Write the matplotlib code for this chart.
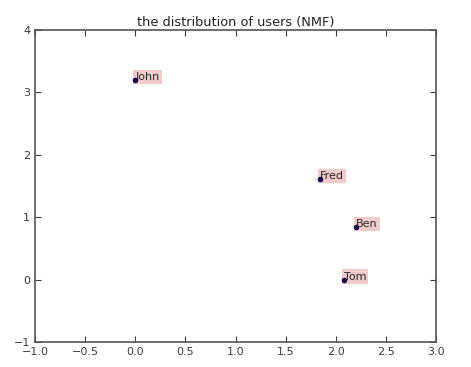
import matplotlib
matplotlib.use("Agg")
import matplotlib.pyplot as plt

names = ["John", "Fred", "Ben", "Tom"]
xs = [0.0, 1.84, 2.20, 2.08]
ys = [3.20, 1.61, 0.84, 0.0]

plt.rcParams['font.family'] = ['DejaVu Sans']
fig = plt.figure(figsize=(4.71, 3.67), dpi=100)
ax = fig.add_axes([35 / 471, 25 / 367, 401 / 471, 312 / 367])

ax.scatter(xs, ys, s=9, color='#1a0a4a', zorder=5)
for n, x, y in zip(names, xs, ys):
    ax.text(x, y, n, fontsize=8, color='#2a2a2a', zorder=4,
            bbox=dict(facecolor='#e8a8a8', edgecolor='none', alpha=0.6, pad=1.5))

ax.set_xlim(-1.0, 3.0)
ax.set_ylim(-1, 4)
ax.set_xticks([-1.0, -0.5, 0.0, 0.5, 1.0, 1.5, 2.0, 2.5, 3.0])
ax.set_yticks([-1, 0, 1, 2, 3, 4])
ax.tick_params(direction='in', top=True, right=True, labelsize=8,
               colors='#3a3a3a', length=4)
for sp in ax.spines.values():
    sp.set_color('#555555')
    sp.set_linewidth(1.2)
ax.set_title("the distribution of users (NMF)", fontsize=9.3, color='#222222', pad=3)

fig.savefig("out.png", dpi=100)
